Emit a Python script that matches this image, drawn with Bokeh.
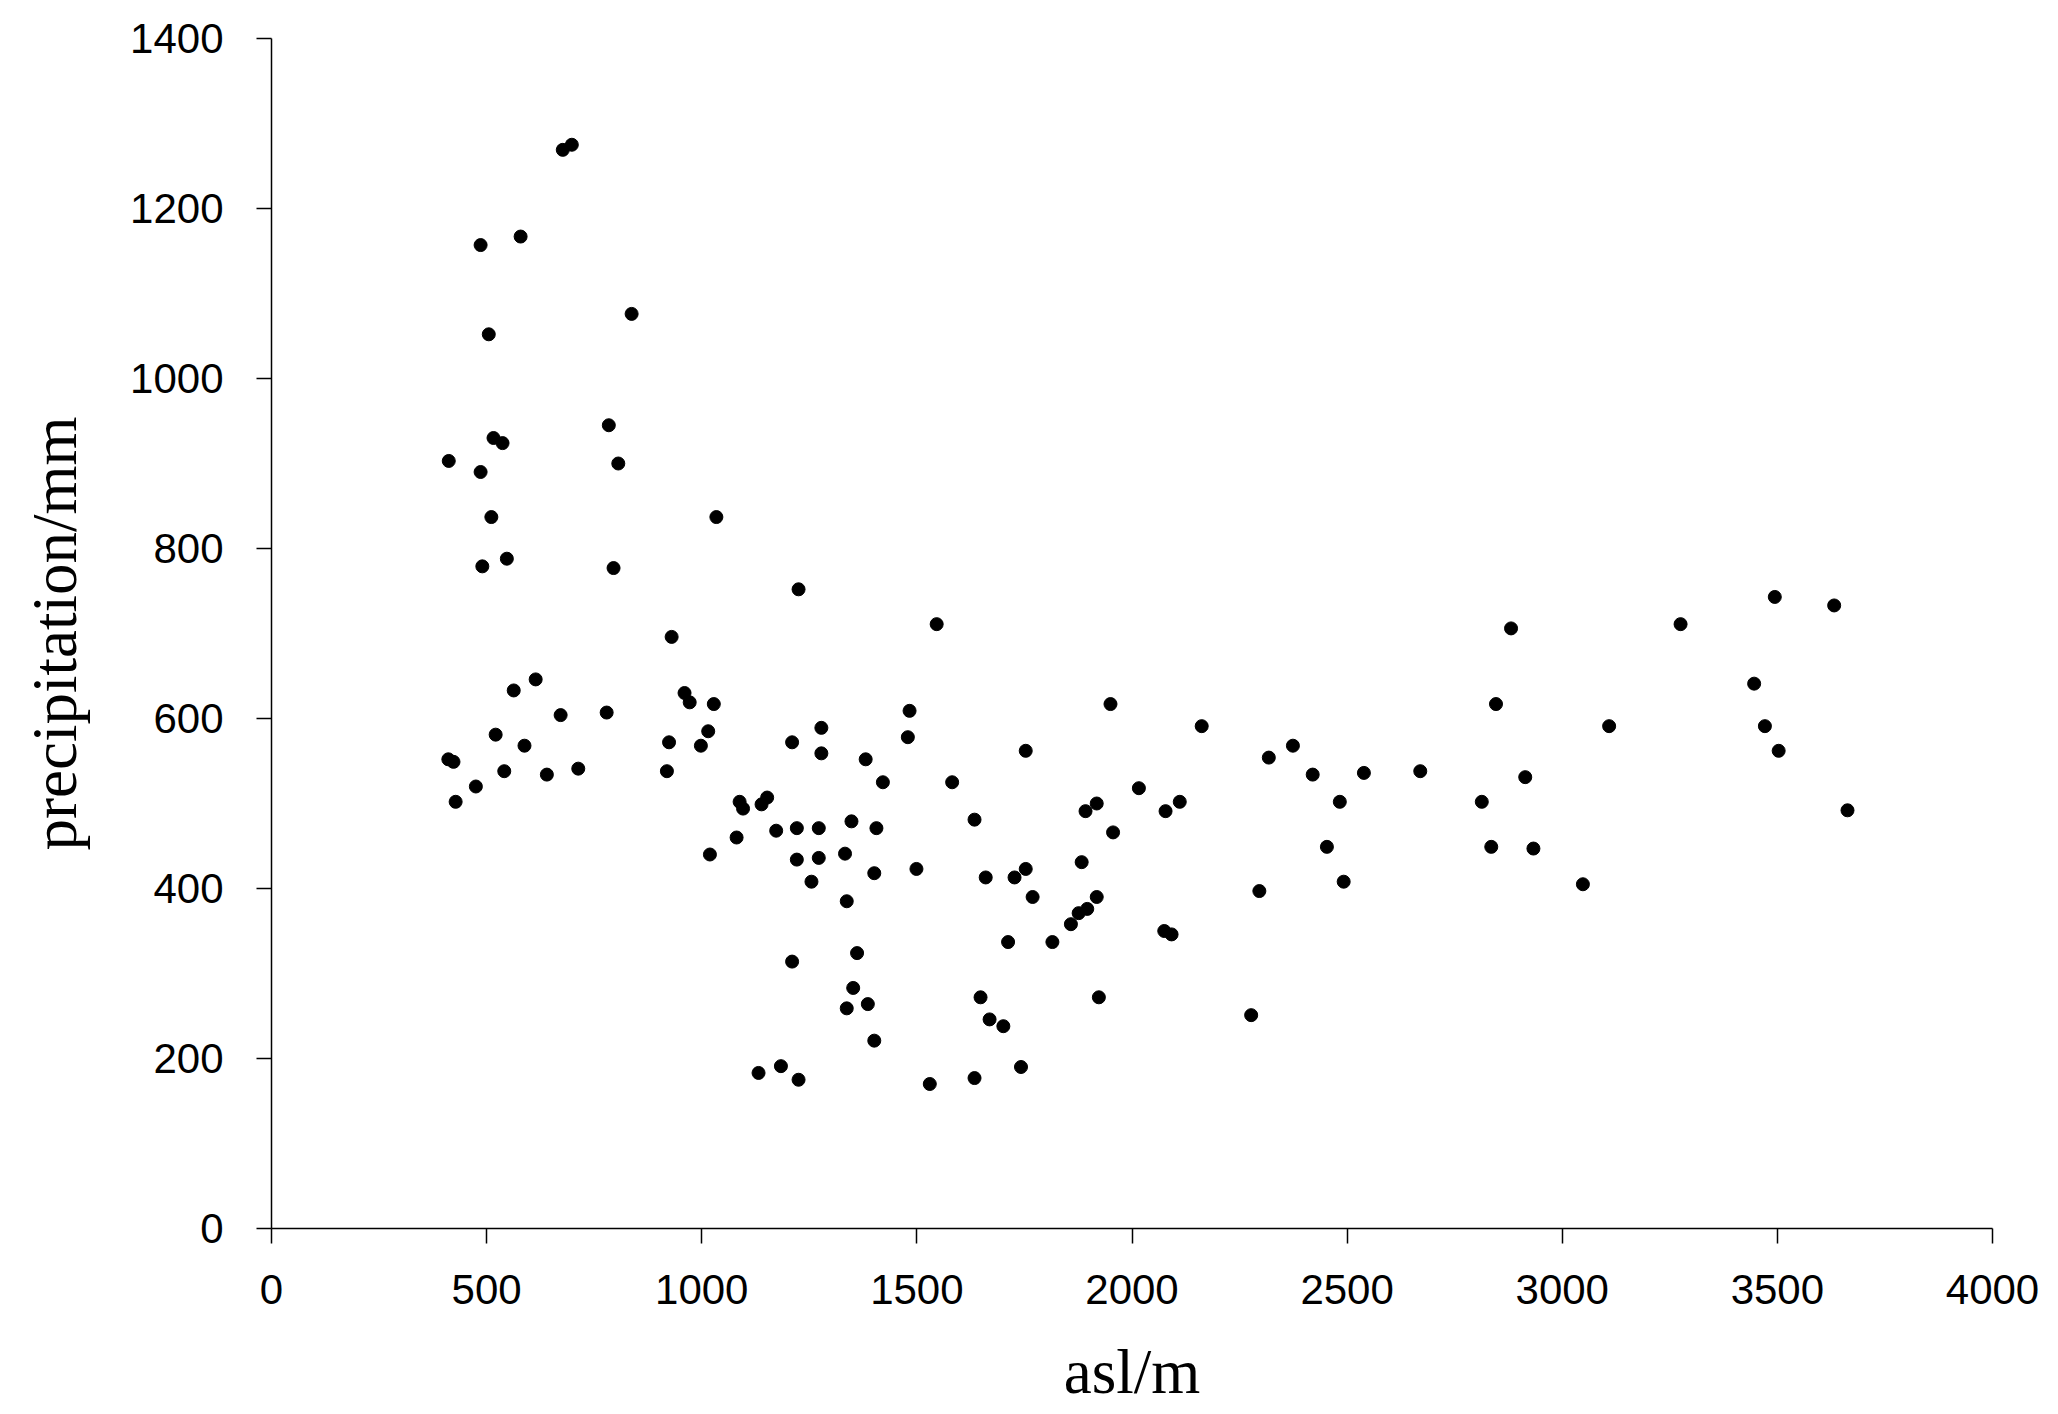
from bokeh.plotting import figure
from bokeh.models import Range1d, FixedTicker, ColumnDataSource
from bokeh.embed import file_html
from bokeh.resources import INLINE

asl = [677, 698, 486, 579, 837, 505, 784, 516, 537, 412, 486, 806, 511, 1034, 490, 547, 795,
       1225, 930, 614, 563, 672, 779, 521, 588, 411, 423, 541, 640, 713, 475, 428, 960, 972,
       1028, 1015, 924, 998, 919, 1278, 1210, 1278, 1088, 1096, 1139, 1152, 1173, 1221, 1272,
       1348, 1081, 1019, 1221, 1272, 1333, 1255, 1337, 1210, 1361, 1352, 1337, 1132, 1184, 1225,
       1546, 1483, 1479, 1381, 1421, 1582, 1753, 1950, 2162, 2318, 2374, 2420, 2539, 2670, 2483,
       2453, 2492, 2296, 2277, 2016, 1918, 1892, 2111, 2078, 1956, 1883, 1918, 1896, 1876, 1858,
       1815, 1712, 2075, 2092, 1769, 1753, 1727, 1660, 1634, 1499, 1401, 1406, 1386, 1401, 1648,
       1669, 1701, 1923, 1742, 1634, 1530,
       3494, 3632, 2881, 3275, 3446, 2846, 3109, 3471, 3503, 2914, 2813, 3663, 2835, 2933, 3048]
precipitation = [1269, 1275, 1157, 1167, 1076, 1052, 945, 930, 924, 903, 890, 900, 837, 837, 779, 788, 777,
                 752, 696, 646, 633, 604, 607, 581, 568, 552, 549, 538, 534, 541, 520, 502, 630, 619,
                 617, 585, 572, 568, 538, 589, 572, 559, 502, 494, 499, 507, 468, 471, 471,
                 479, 460, 440, 434, 436, 441, 408, 385, 314, 324, 283, 259, 183, 191, 175,
                 711, 609, 578, 552, 525, 525, 562, 617, 591, 554, 568, 534, 536, 538, 502,
                 449, 408, 397, 251, 518, 500, 491, 502, 491, 466, 431, 390, 376, 371, 358,
                 337, 337, 350, 346, 390, 423, 413, 413, 481, 423, 418, 471, 264, 221, 272,
                 246, 238, 272, 190, 177, 170,
                 743, 733, 706, 711, 641, 617, 591, 591, 562, 531, 502, 492, 449, 447, 405]

x_ticks = [0, 500, 1000, 1500, 2000, 2500, 3000, 3500, 4000]
y_ticks = [0, 200, 400, 600, 800, 1000, 1200, 1400]

src = ColumnDataSource(dict(x=asl, y=precipitation))

p = figure(width=2049, height=1414, x_range=Range1d(0, 4000), y_range=Range1d(0, 1400),
           output_backend="svg", toolbar_location=None,
           min_border_left=271, min_border_right=57, min_border_top=38, min_border_bottom=186)

p.scatter("x", "y", source=src, size=13, color="black")

p.xgrid.visible = False
p.ygrid.visible = False
p.outline_line_color = None
p.background_fill_color = "white"
p.border_fill_color = "white"

p.xaxis.ticker = FixedTicker(ticks=x_ticks)
p.yaxis.ticker = FixedTicker(ticks=y_ticks)

for ax in (p.xaxis[0], p.yaxis[0]):
    ax.axis_line_color = "black"
    ax.axis_line_width = 1.5
    ax.major_tick_line_color = "black"
    ax.major_tick_line_width = 1.5
    ax.major_tick_in = 0
    ax.major_tick_out = 15
    ax.minor_tick_line_color = None
    ax.major_label_text_font = "Liberation Sans"
    ax.major_label_text_font_size = "42px"
    ax.major_label_text_color = "black"
    ax.axis_label_text_font = "Liberation Serif"
    ax.axis_label_text_font_size = "63px"
    ax.axis_label_text_font_style = "normal"
    ax.axis_label_text_color = "black"

p.xaxis.axis_label = "asl/m"
p.yaxis.axis_label = "precipitation/mm"
p.xaxis.major_label_standoff = 31
p.yaxis.major_label_standoff = 33
p.xaxis.axis_label_standoff = 30
p.yaxis.axis_label_standoff = 37

open("out.html", "w").write(file_html(p, INLINE))
